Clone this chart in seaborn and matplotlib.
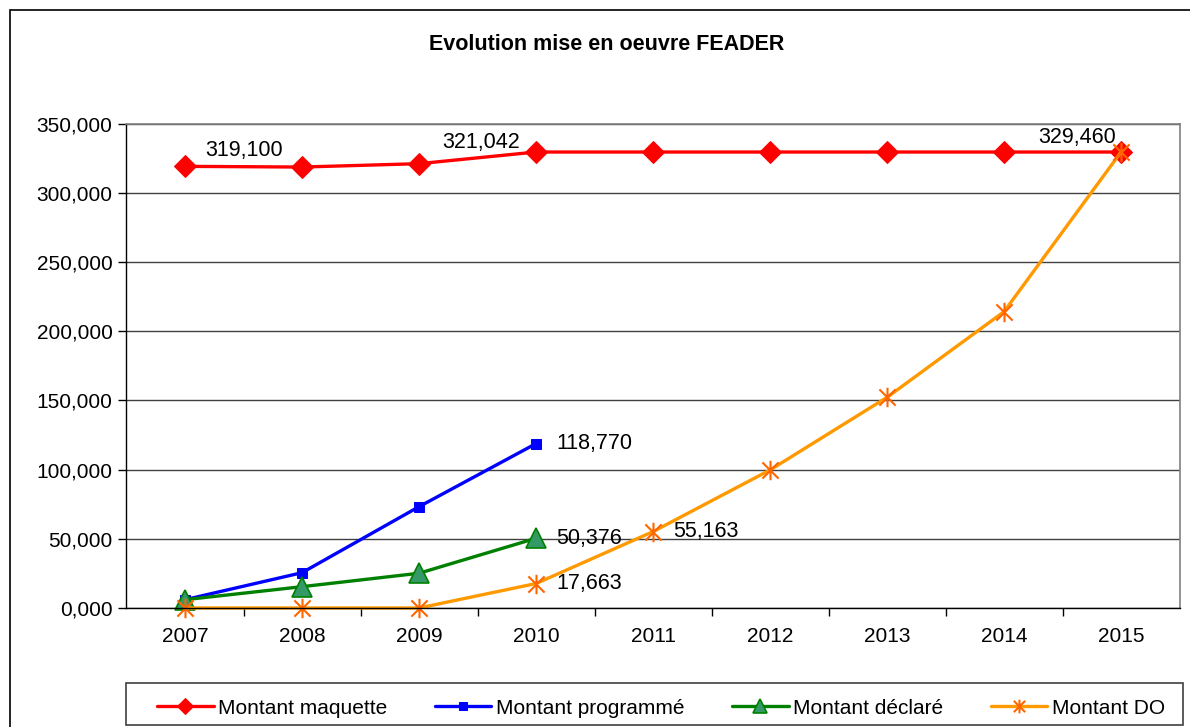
import matplotlib
matplotlib.use("Agg")
import matplotlib.pyplot as plt
import seaborn as sns
import pandas as pd
from matplotlib.patches import Rectangle
from matplotlib.path import Path
from matplotlib.ticker import FuncFormatter, FixedLocator

years = [2007, 2008, 2009, 2010, 2011, 2012, 2013, 2014, 2015]
maquette = [319.100, 318.6, 321.042, 329.460, 329.460, 329.460, 329.460, 329.460, 329.460]
prog_years = [2007, 2008, 2009, 2010]
programme = [6.0, 25.5, 73.2, 118.770]
declare = [6.0, 15.4, 25.1, 50.376]
do_vals = [0.0, 0.0, 0.0, 17.663, 55.163, 99.7, 152.2, 214.1, 329.460]

sns.set_theme(style="white")
plt.rcParams["font.family"] = ["Liberation Sans", "DejaVu Sans"]
plt.rcParams.update({"text.color": "black", "axes.labelcolor": "black",
                     "xtick.color": "black", "ytick.color": "black"})

# Excel-like star marker: X plus vertical bar
star = Path([(-1, -1), (1, 1), (-1, 1), (1, -1), (0, -1.2), (0, 1.2)],
            [Path.MOVETO, Path.LINETO] * 3)

fig = plt.figure(figsize=(11.9, 7.27), dpi=100)
ax = fig.add_axes([0.1063, 0.1637, 0.8849, 0.6663])

df_maq = pd.DataFrame({"year": years, "val": maquette})
df_prog = pd.DataFrame({"year": prog_years, "val": programme})
df_decl = pd.DataFrame({"year": prog_years, "val": declare})
df_do = pd.DataFrame({"year": years, "val": do_vals})

sns.lineplot(data=df_maq, x="year", y="val", ax=ax, color="#FF0000", lw=2.4,
             marker="D", markersize=11, markeredgecolor="#FF0000",
             label="Montant maquette", clip_on=False)
sns.lineplot(data=df_prog, x="year", y="val", ax=ax, color="#0000FF", lw=2.4,
             marker="s", markersize=7.5, markeredgecolor="#0000FF",
             label="Montant programmé", clip_on=False)
sns.lineplot(data=df_decl, x="year", y="val", ax=ax, color="#008000", lw=2.4,
             marker="^", markersize=14, markerfacecolor="#339966",
             markeredgecolor="#008000", markeredgewidth=1.2,
             label="Montant déclaré", clip_on=False)
sns.lineplot(data=df_do, x="year", y="val", ax=ax, color="#FF9900", lw=2.4,
             marker=star, markersize=14, markeredgecolor="#FF6600",
             markeredgewidth=1.5, label="Montant DO", clip_on=False)

# data labels
lab_fs = 15.5
def fmt(v):
    return f"{v:.3f}".replace(".", ",")

ax.text(years[0] + 0.17, maquette[0] + 4, fmt(maquette[0]), fontsize=lab_fs, ha="left", va="bottom")
ax.text(years[2] + 0.2, maquette[2] + 8, fmt(maquette[2]), fontsize=lab_fs, ha="left", va="bottom")
ax.text(years[8] - 0.04, maquette[8] + 3, fmt(maquette[8]), fontsize=lab_fs, ha="right", va="bottom")
ax.text(prog_years[3] + 0.17, programme[3], fmt(programme[3]), fontsize=lab_fs, ha="left", va="center")
ax.text(prog_years[3] + 0.17, declare[3], fmt(declare[3]), fontsize=lab_fs, ha="left", va="center")
ax.text(years[3] + 0.17, do_vals[3], fmt(do_vals[3]), fontsize=lab_fs, ha="left", va="center")
ax.text(years[4] + 0.17, do_vals[4], fmt(do_vals[4]), fontsize=lab_fs, ha="left", va="center")

ax.set_xlim(2006.5, 2015.5)
ax.set_ylim(0, 350)
ax.set_yticks(range(0, 351, 50))
ax.yaxis.set_major_formatter(FuncFormatter(lambda v, p: f"{v:.3f}".replace(".", ",")))
ax.set_xticks(years)
ax.set_xticklabels([str(y) for y in years])
ax.xaxis.set_minor_locator(FixedLocator([y + 0.5 for y in years[:-1]]))
ax.tick_params(axis="x", which="major", length=0, labelsize=15, pad=14)
ax.tick_params(axis="x", which="minor", length=6, width=1, color="black", direction="out", bottom=True)
ax.tick_params(axis="y", length=6, width=1, color="black", direction="out", left=True, labelsize=15, pad=4)
ax.set_xlabel("")
ax.set_ylabel("")
ax.grid(axis="y", color="#404040", lw=1)
ax.set_axisbelow(True)
for s in ["top", "right"]:
    ax.spines[s].set_color("#808080")
    ax.spines[s].set_linewidth(1.2)
for s in ["left", "bottom"]:
    ax.spines[s].set_color("black")
    ax.spines[s].set_linewidth(1)

ax.legend_.remove()
handles, labels = ax.get_legend_handles_labels()
leg = fig.legend(handles, labels, loc="lower left", ncol=4,
                 bbox_to_anchor=(150 / 1190, 1 - 725 / 727, 1022 / 1190, 42 / 727),
                 mode="expand", fontsize=15, frameon=False,
                 handlelength=2.7, borderaxespad=0,
                 handletextpad=0.2, markerscale=0.7, borderpad=0.35)

# legend frame
fig.patches.append(Rectangle((126 / 1190, 1 - 725 / 727), 1057 / 1190, 42 / 727,
                             transform=fig.transFigure, fill=False,
                             edgecolor="#404040", lw=1.2))

fig.text(607 / 1190, 1 - 44 / 727, "Evolution mise en oeuvre FEADER", ha="center",
         va="center", fontsize=15.5, fontweight="bold")

fig.patches.append(Rectangle((10 / 1190, -0.1), 1.2, 1.1 - 10 / 727, transform=fig.transFigure,
                             fill=False, edgecolor="black", lw=1.2))

fig.savefig("out.png", dpi=100)
